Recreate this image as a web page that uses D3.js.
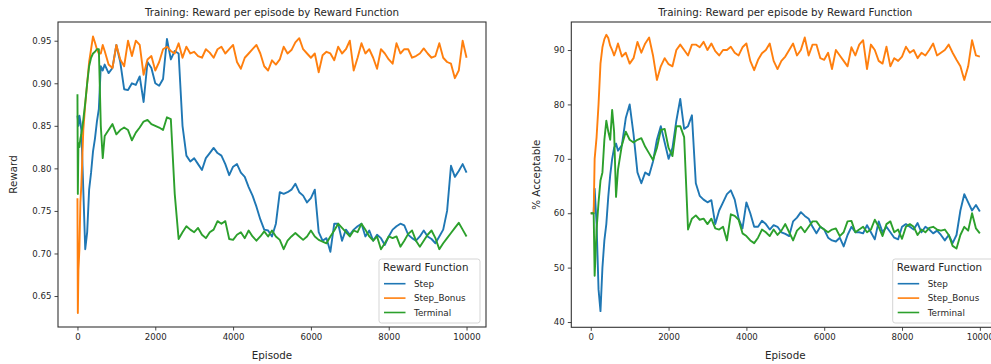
<!DOCTYPE html>
<html>
<head>
<meta charset="utf-8">
<script src="https://cdn.jsdelivr.net/npm/d3@7"></script>
<style>
  body { margin: 0; background: #fff; }
  svg { display: block; font-family: "DejaVu Sans", sans-serif; }
</style>
</head>
<body>
<svg id="chart" width="991" height="364"></svg>
<script>
// sampling grid (dense at the start where the curves move fast)
const episodes = [0, 10, 25, 50, 75, 100, 150, 200, 250, 300, 350, 400, 450, 500, 550, 600, 650, 700, 800, 900]
    .concat(d3.range(1000, 10001, 100));

const seriesNames = ['Step', 'Step_Bonus', 'Terminal'];
const seriesColors = ['#1f77b4', '#ff7f0e', '#2ca02c'];

// left panel: reward
const rewardStep = [
    0.862, 0.858, 0.850, 0.862, 0.855, 0.845, 0.775, 0.705, 0.725, 0.775, 0.795, 0.82, 0.835, 0.855, 0.87, 0.92, 0.915, 0.922, 0.912, 0.918,
    0.945, 0.925, 0.893, 0.892, 0.9, 0.898, 0.908, 0.878, 0.925, 0.918,
    0.9, 0.897, 0.905, 0.952, 0.928, 0.938, 0.935, 0.85, 0.815, 0.808,
    0.812, 0.805, 0.798, 0.812, 0.818, 0.824, 0.818, 0.815, 0.805, 0.792,
    0.802, 0.805, 0.795, 0.79, 0.778, 0.768, 0.755, 0.74, 0.728, 0.727,
    0.72, 0.735, 0.772, 0.77, 0.772, 0.775, 0.782, 0.772, 0.768, 0.76,
    0.765, 0.775, 0.725, 0.715, 0.718, 0.702, 0.735, 0.735, 0.715, 0.728,
    0.722, 0.728, 0.732, 0.735, 0.72, 0.727, 0.715, 0.722, 0.718, 0.71,
    0.72, 0.728, 0.732, 0.735, 0.733, 0.722, 0.718, 0.715, 0.72, 0.727,
    0.72, 0.717, 0.712, 0.72, 0.728, 0.75, 0.803, 0.79, 0.797, 0.805,
    0.795
];
const rewardStepBonus = [
    0.765, 0.63, 0.68, 0.705, 0.76, 0.78, 0.845, 0.875, 0.9, 0.925, 0.94, 0.955, 0.948, 0.94, 0.935, 0.935, 0.945, 0.938, 0.922, 0.918,
    0.945, 0.928, 0.92, 0.95, 0.932, 0.95, 0.945, 0.91, 0.928, 0.932,
    0.915, 0.925, 0.94, 0.943, 0.938, 0.935, 0.947, 0.93, 0.943, 0.935,
    0.937, 0.932, 0.93, 0.94, 0.936, 0.93, 0.94, 0.943, 0.935, 0.94,
    0.945, 0.925, 0.917, 0.93, 0.935, 0.94, 0.945, 0.935, 0.92, 0.915,
    0.927, 0.922, 0.928, 0.943, 0.935, 0.939, 0.948, 0.953, 0.94, 0.935,
    0.93, 0.935, 0.913, 0.933, 0.937, 0.935, 0.927, 0.943, 0.935, 0.94,
    0.95, 0.915, 0.93, 0.947, 0.935, 0.94, 0.93, 0.917, 0.94, 0.935,
    0.928, 0.923, 0.947, 0.935, 0.94, 0.94, 0.93, 0.932, 0.935, 0.941,
    0.935, 0.93, 0.932, 0.947, 0.93, 0.925, 0.923, 0.906, 0.915, 0.95,
    0.93
];
const rewardTerminal = [
    0.887, 0.77, 0.83, 0.825, 0.835, 0.84, 0.857, 0.877, 0.9, 0.92, 0.93, 0.935, 0.937, 0.94, 0.94, 0.85, 0.812, 0.838, 0.845, 0.852,
    0.84, 0.845, 0.848, 0.845, 0.833, 0.842, 0.848, 0.855, 0.857, 0.852,
    0.85, 0.848, 0.845, 0.86, 0.858, 0.77, 0.717, 0.725, 0.732, 0.728,
    0.725, 0.73, 0.722, 0.718, 0.725, 0.728, 0.738, 0.735, 0.738, 0.717,
    0.716, 0.722, 0.725, 0.718, 0.727, 0.72, 0.715, 0.72, 0.726, 0.72,
    0.727, 0.72, 0.716, 0.705, 0.715, 0.72, 0.724, 0.72, 0.716, 0.72,
    0.727, 0.72, 0.716, 0.714, 0.712, 0.72, 0.727, 0.735, 0.73, 0.725,
    0.72, 0.727, 0.725, 0.735, 0.728, 0.72, 0.715, 0.72, 0.705, 0.712,
    0.72, 0.718, 0.72, 0.708, 0.715, 0.723, 0.727, 0.715, 0.708, 0.715,
    0.722, 0.727, 0.718, 0.705, 0.712, 0.718, 0.724, 0.73, 0.736, 0.728,
    0.72
];

// right panel: % acceptable
const acceptStep = [
    60, 60, 60, 60, 60, 64.5, 58, 46, 42, 50, 55, 58, 63, 67, 70, 72, 72.8, 71.5, 72.5, 77.5,
    80, 74.5, 67.5, 65.5, 67.5, 67, 69.5, 73.5, 76, 73,
    70, 72, 77, 81, 75.5, 76, 78, 65.5, 63.2, 62.5,
    62, 62.4, 58, 60.5, 62, 63.5, 64.2, 62.5, 59, 57.2,
    62, 60, 57.5, 57.5, 58.6, 58, 57, 57.8, 57.5, 56.5,
    56.2, 55.8, 58.5, 59.2, 60.2, 59.5, 59, 57.5, 56.3, 57.5,
    57, 55.5, 55, 54.8, 55.5, 53.9, 56, 57.5, 56.5, 56.5,
    56.3, 57.8, 56.5, 55.2, 58.5, 56.5, 57.5, 56.5, 55.5, 55.2,
    57.5, 58, 57.5, 57, 58.2, 56.5, 57.5, 57, 56.3, 56.8,
    56, 55, 56, 54.5, 56, 60.5, 63.5, 62, 60.5, 61.5,
    60.3
];
const acceptStepBonus = [
    60, 60, 60, 60, 60, 70, 74, 80, 87.5, 90.5, 92, 92.8, 92.2, 90.8, 90, 89, 90, 91.2, 88.8, 89.5,
    87.5, 88.5, 91.5, 89.5, 91.2, 92.3, 89, 84.5, 87, 88.5,
    87.4, 87, 90, 91, 90, 89, 91, 91, 90.5, 91.5,
    90, 91.2, 89.8, 89, 90, 90, 90.6, 89.5, 89, 90.5,
    91.2, 88, 86.3, 88.2, 89.4, 90, 91.2, 88, 86.5, 88,
    88.8, 90, 91.2, 89, 90, 92.3, 89, 91, 91, 88.5,
    88.2, 89.5, 86.5, 90, 89, 88, 87, 90.5, 89, 91,
    91.8, 86.5, 91, 90, 88, 87.5, 90.6, 87, 88.5, 88,
    88.8, 90.6, 89.5, 90, 88.5, 89.5, 89, 90, 91.2, 89,
    89.5, 90, 91, 89.5, 88.2, 87, 84.5, 87, 91.8, 89,
    88.8
];
const acceptTerminal = [
    60, 60, 60, 60, 60, 48.5, 57, 62, 66, 67.5, 73.5, 77, 75, 73.5, 79, 75, 63, 68, 72.5, 75,
    73.5, 73, 73.5, 73.8, 72.2, 71, 69.8, 72, 75.3, 75.5,
    72, 70.5, 76, 76, 74, 57, 59, 59.6, 58.8, 59,
    58, 59, 57.2, 57, 57.5, 55, 59.8, 59.5, 58.8, 56.3,
    55.8, 55, 54.5, 55.5, 57, 56.5, 55.8, 57, 56, 56.8,
    58, 56.5, 55, 56.8, 57.5, 56.5, 57.5, 58.5, 58.5, 57.5,
    57, 56.5, 57, 57.2, 55.8, 56.5, 58.5, 58.6, 56.5, 57,
    57.5, 56.5, 57, 58.8, 57.5, 55.8, 58, 58.5, 56.5, 57,
    55.3, 57.5, 58, 57.5, 56, 57, 56.5, 57.3, 57.5, 57,
    56.8, 57, 56, 54, 53.5, 56, 57.5, 56.8, 60, 57.2,
    56.3
];

const xTicks = [0, 2000, 4000, 6000, 8000, 10000];
const rewardTicks = [0.65, 0.70, 0.75, 0.80, 0.85, 0.90, 0.95];
const acceptTicks = [40, 50, 60, 70, 80, 90];

const titleText = 'Training: Reward per episode by Reward Function';
const legendTitle = 'Reward Function';

const svg = d3.select('#chart');
const textColor = '#262626';
const spineColor = '#333';

function drawPanel(opts) {
    const { left, right, top, bottom, yDomain, yTicks, yFormat, yLabel, series, id } = opts;

    const x = d3.scaleLinear().domain([-500, 10500]).range([left, right]);
    const y = d3.scaleLinear().domain(yDomain).range([bottom, top]);

    const g = svg.append('g');

    g.append('clipPath').attr('id', 'clip-' + id)
        .append('rect')
        .attr('x', left).attr('y', top)
        .attr('width', right - left).attr('height', bottom - top);

    // lines
    const line = d3.line()
        .x((d, i) => x(episodes[i]))
        .y(d => y(d));

    const lines = g.append('g').attr('clip-path', `url(#clip-${id})`);
    series.forEach((vals, i) => {
        lines.append('path')
            .attr('d', line(vals))
            .attr('fill', 'none')
            .attr('stroke', seriesColors[i])
            .attr('stroke-width', 1.9)
            .attr('stroke-linejoin', 'round');
    });

    // axes
    const xAxis = g.append('g')
        .attr('transform', `translate(0,${bottom})`)
        .call(d3.axisBottom(x).tickValues(xTicks).tickFormat(d3.format('d')).tickSize(3.5).tickPadding(3));
    const yAxis = g.append('g')
        .attr('transform', `translate(${left},0)`)
        .call(d3.axisLeft(y).tickValues(yTicks).tickFormat(d3.format(yFormat)).tickSize(3.5).tickPadding(3));

    [xAxis, yAxis].forEach(ax => {
        ax.select('.domain').remove();
        ax.selectAll('line').attr('stroke', spineColor).attr('stroke-width', 0.9);
        ax.selectAll('text')
            .attr('fill', textColor)
            .style('font-size', '8.6px')
            .style('font-family', '"DejaVu Sans", sans-serif');
    });

    // frame
    g.append('rect')
        .attr('x', left).attr('y', top)
        .attr('width', right - left).attr('height', bottom - top)
        .attr('fill', 'none')
        .attr('stroke', spineColor)
        .attr('stroke-width', 1.1);

    // title + labels
    const cx = (left + right) / 2;
    g.append('text')
        .attr('x', cx).attr('y', 15.5)
        .attr('text-anchor', 'middle')
        .attr('fill', textColor)
        .style('font-size', '10.3px')
        .text(titleText);

    g.append('text')
        .attr('x', cx).attr('y', 359)
        .attr('text-anchor', 'middle')
        .attr('fill', textColor)
        .style('font-size', '10.3px')
        .text('Episode');

    g.append('text')
        .attr('transform', `translate(${opts.yLabelX},${(top + bottom) / 2}) rotate(-90)`)
        .attr('text-anchor', 'middle')
        .attr('fill', textColor)
        .style('font-size', '10.3px')
        .text(yLabel);

    // legend
    const lg = g.append('g').attr('transform', `translate(${opts.legendX},259)`);
    lg.append('rect')
        .attr('width', 101).attr('height', 64)
        .attr('rx', 2.5)
        .attr('fill', '#fff').attr('fill-opacity', 0.8)
        .attr('stroke', '#d0d0d0').attr('stroke-width', 0.9);
    lg.append('text')
        .attr('x', 4).attr('y', 12)
        .attr('fill', textColor)
        .style('font-size', '10.3px')
        .text(legendTitle);
    seriesNames.forEach((name, i) => {
        const yy = 24.7 + i * 14.4;
        lg.append('line')
            .attr('x1', 5).attr('x2', 26.5)
            .attr('y1', yy).attr('y2', yy)
            .attr('stroke', seriesColors[i]).attr('stroke-width', 1.6);
        lg.append('text')
            .attr('x', 35).attr('y', yy + 3.2)
            .attr('fill', textColor)
            .style('font-size', '8.8px')
            .text(name);
    });
}

drawPanel({
    id: 'reward',
    left: 58, right: 486, top: 22, bottom: 327,
    yDomain: [0.6136, 0.972],
    yTicks: rewardTicks, yFormat: '.2f',
    yLabel: 'Reward', yLabelX: 17,
    legendX: 379,
    series: [rewardStep, rewardStepBonus, rewardTerminal]
});

drawPanel({
    id: 'accept',
    left: 571.3, right: 999.3, top: 22, bottom: 327.3,
    yDomain: [39.03, 95.15],
    yTicks: acceptTicks, yFormat: 'd',
    yLabel: '% Acceptable', yLabelX: 540,
    legendX: 892.7,
    series: [acceptStep, acceptStepBonus, acceptTerminal]
});
</script>
</body>
</html>
